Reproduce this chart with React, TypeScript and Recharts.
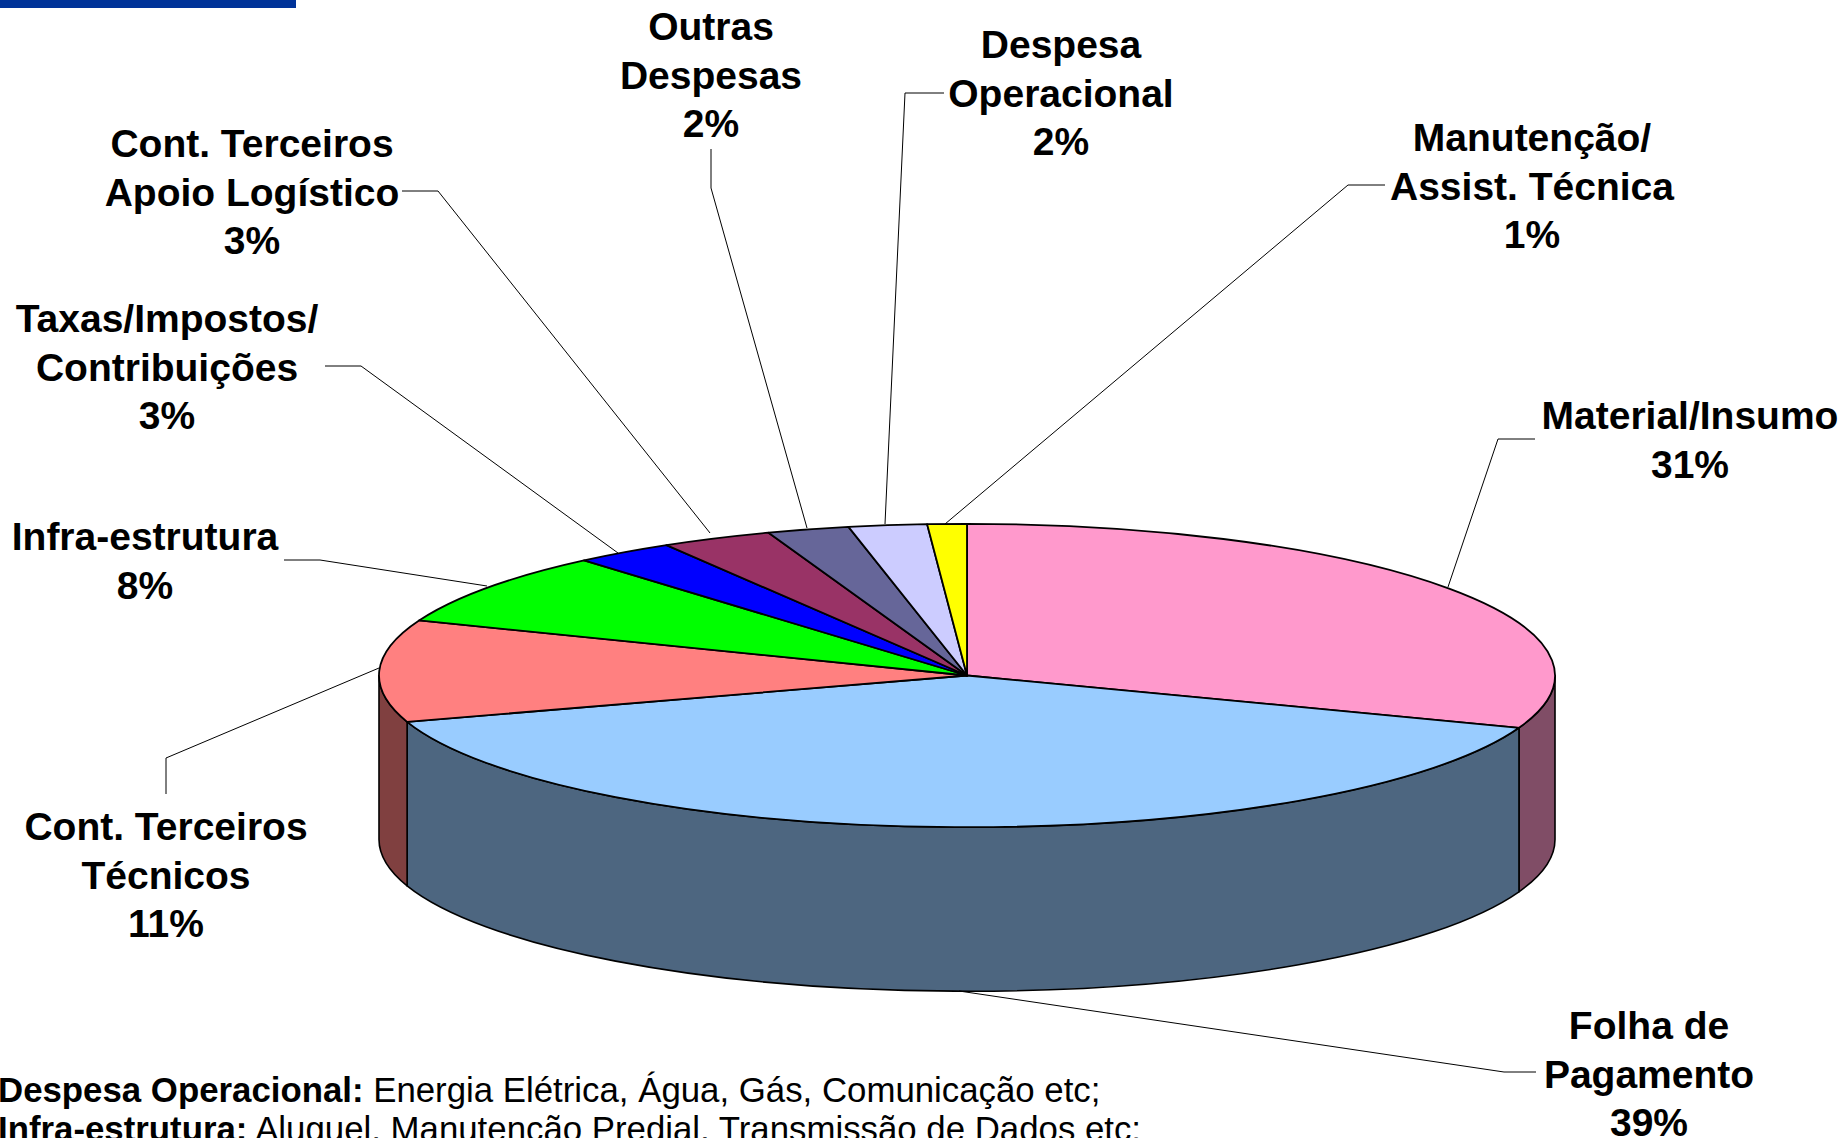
import React from 'react';
import { PieChart, Pie } from 'recharts';

const categories = ['Material/Insumo', 'Folha de Pagamento', 'Cont. Terceiros Técnicos', 'Infra-estrutura', 'Taxas/Impostos/Contribuições', 'Cont. Terceiros Apoio Logístico', 'Outras Despesas', 'Despesa Operacional', 'Manutenção/Assist. Técnica'];
const values = [30.6, 39.46, 10.85, 7.8, 2.75, 3.06, 2.25, 2.15, 1.08];
const shownPercents = [31, 39, 11, 8, 3, 3, 2, 2, 1];
const topColors = ['#FF99CC', '#99CCFF', '#FF8080', '#00FF00', '#0000FF', '#993366', '#666699', '#CCCCFF', '#FFFF00'];
const wallColors = ['#804D66', '#4D6680', '#804040', '#008000', '#000080', '#4D1A33', '#33334D', '#666680', '#808000'];
const labelLines = [
  ['Material/Insumo'],
  ['Folha de', 'Pagamento'],
  ['Cont. Terceiros', 'Técnicos'],
  ['Infra-estrutura'],
  ['Taxas/Impostos/', 'Contribuições'],
  ['Cont. Terceiros', 'Apoio Logístico'],
  ['Outras', 'Despesas'],
  ['Despesa', 'Operacional'],
  ['Manutenção/', 'Assist. Técnica'],
];
// label layout: text centre x, first-line baseline y
const labelAnchors = [[1690, 429], [1649, 1039], [166, 840], [145, 550], [167, 332], [252, 157], [711, 40], [1061, 58], [1532, 151]];
const leaderPaths = [
  [[1448, 587], [1498, 439], [1535, 439]],
  [[959, 991], [1504, 1072], [1536, 1072]],
  [[379, 668], [166, 758], [166, 794]],
  [[487, 586], [320, 560], [284, 560]],
  [[618, 553], [361, 366], [325, 366]],
  [[710, 533], [438, 191], [402, 191]],
  [[807, 528], [711, 188], [711, 149]],
  [[885, 524], [905, 93], [944, 93]],
  [[945, 524], [1348, 185], [1385, 185]],
];
const notes = [
  ['Despesa Operacional:', ' Energia Elétrica, Água, Gás, Comunicação etc;'],
  ['Infra-estrutura:', ' Aluguel, Manutenção Predial, Transmissão de Dados etc;'],
];

const data = categories.map((name, i) => ({ name, value: values[i], top: topColors[i], wall: wallColors[i] }));

const FONT = '"Liberation Sans", Arial, sans-serif';
const RATIO = 151.7 / 588;
const DEPTH = 164;

const pt = (cx: number, cy: number, r: number, deg: number, dy = 0) => {
  const a = (deg * Math.PI) / 180;
  return [cx + r * Math.cos(a), cy - r * RATIO * Math.sin(a) + dy];
};

const TopSector = (p: any) => {
  const { cx, cy, outerRadius: r, startAngle, endAngle, payload } = p;
  const [x1, y1] = pt(cx, cy, r, startAngle);
  const [x2, y2] = pt(cx, cy, r, endAngle);
  const large = Math.abs(startAngle - endAngle) > 180 ? 1 : 0;
  const fill = p.top ?? payload?.top;
  return (
    <path
      d={`M${cx},${cy}L${x1},${y1}A${r},${r * RATIO} 0 ${large} 1 ${x2},${y2}Z`}
      fill={fill}
      stroke="#000"
      strokeWidth={1.8}
      strokeLinejoin="round"
    />
  );
};

const WallSector = (p: any) => {
  const { cx, cy, outerRadius: r, startAngle, endAngle, payload } = p;
  // angles run clockwise, downward from startAngle to endAngle; the visible wall lies in -180..0
  const s = Math.min(startAngle, 0);
  const e = Math.max(endAngle, -180);
  if (s <= e) return <g />;
  const [x1, y1] = pt(cx, cy, r, s);
  const [x2, y2] = pt(cx, cy, r, e);
  const rY = r * RATIO;
  const fill = p.wall ?? payload?.wall;
  return (
    <path
      d={`M${x1},${y1}A${r},${rY} 0 0 1 ${x2},${y2}L${x2},${y2 + DEPTH}A${r},${rY} 0 0 0 ${x1},${y1 + DEPTH}Z`}
      fill={fill}
      stroke="#000"
      strokeWidth={1.6}
      strokeLinejoin="round"
    />
  );
};

const renderLabel = (p: any) => {
  const i = p.index;
  const [x, y0] = labelAnchors[i];
  const lines = [...labelLines[i], `${shownPercents[i]}%`];
  const pts = leaderPaths[i].map((q) => q.join(',')).join(' ');
  return (
    <g key={i}>
      <polyline points={pts} fill="none" stroke="#000" strokeWidth={1} />
      <text x={x} y={y0} textAnchor="middle" fontFamily={FONT} fontWeight={700} fontSize={39} fill="#000">
        {lines.map((t, k) => (
          <tspan key={k} x={x} y={y0 + k * 48.7}>{t}</tspan>
        ))}
      </text>
    </g>
  );
};

export default function App() {
  return (
    <div style={{ position: 'absolute', left: 0, top: 0, width: 1845, height: 1138, overflow: 'hidden', background: '#fff' }}>
      <PieChart width={1845} height={1138} margin={{ top: 0, right: 0, bottom: 0, left: 0 }}>
        <rect x={0} y={0} width={296} height={8} fill="#003399" />
        <Pie data={data} dataKey="value" nameKey="name" cx={967} cy={675.5} innerRadius={0} outerRadius={588} startAngle={90} endAngle={-270} paddingAngle={0} isAnimationActive={false} shape={WallSector} legendType="none" />
        <Pie data={data} dataKey="value" nameKey="name" cx={967} cy={675.5} innerRadius={0} outerRadius={588} startAngle={90} endAngle={-270} paddingAngle={0} isAnimationActive={false} shape={TopSector} label={renderLabel} labelLine={false} legendType="none" />
        <g>
          {notes.map((n, i) => (
            <text key={i} x={-2} y={1102 + i * 39} fontFamily={FONT} fontSize={34.8} fill="#000">
              <tspan fontWeight={700}>{n[0]}</tspan>
              <tspan>{n[1]}</tspan>
            </text>
          ))}
        </g>
      </PieChart>
    </div>
  );
}
